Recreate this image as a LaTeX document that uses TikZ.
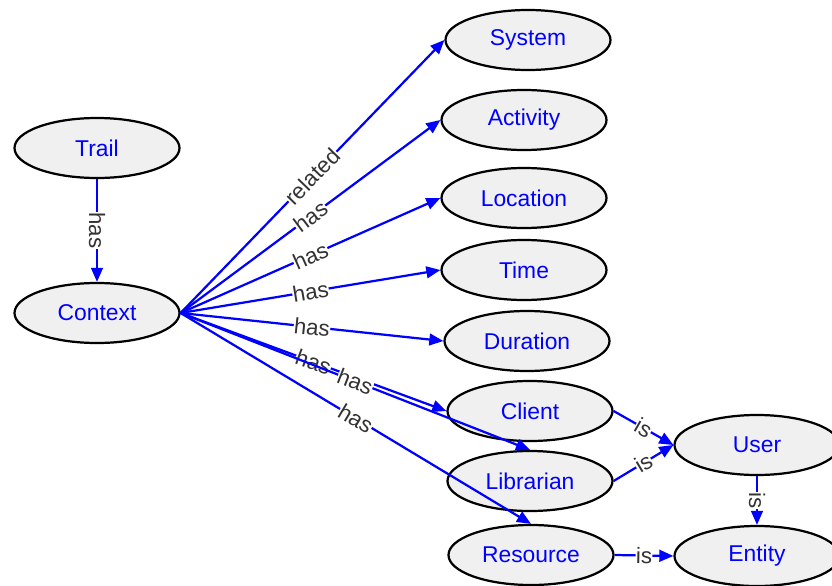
\documentclass[tikz,border=0pt]{standalone}
\usepackage{fontspec}
\setmainfont{Liberation Sans}
\usetikzlibrary{shapes.geometric,arrows.meta}

\definecolor{nodefill}{RGB}{240,240,240}
\definecolor{linkblue}{RGB}{0,0,255}

\tikzset{
  concept/.style={ellipse, draw=black, line width=1.9pt, fill=nodefill,
    minimum width=4.95cm, minimum height=1.8cm, inner sep=0pt,
    text=linkblue, font=\fontsize{19.5}{22}\selectfont},
  link/.style={draw=linkblue, line width=1.9pt, -{Triangle[length=12pt,width=10pt]}},
  rel/.style={fill=white, inner sep=0.3pt, sloped, text=black!80,
    font=\fontsize{19}{21}\selectfont}
}

\begin{document}
\begin{tikzpicture}[x=0.03cm, y=-0.03cm]
\useasboundingbox (0,0) rectangle (832,586);
\clip (0,0) rectangle (832,586);

% left column
\node[concept] (trail) at (97,148) {Trail};
\node[concept] (context) at (97,313) {Context};

% middle column
\node[concept] (system) at (528,40) {System};
\node[concept] (activity) at (524,120) {Activity};
\node[concept] (location) at (524,198) {Location};
\node[concept] (time) at (524,270) {Time};
\node[concept] (duration) at (527,341) {Duration};
\node[concept] (client) at (530,411) {Client};
\node[concept] (librarian) at (530,481) {Librarian};
\node[concept] (resource) at (531,555) {Resource};

% right column
\node[concept] (user) at (757,445) {User};
\node[concept] (entity) at (757,556) {Entity};

\draw[link] (trail) -- node[rel] {has} (context);

% fan out of context
\draw[link] (context.east) -- node[rel] {related} (system.west);
\draw[link] (context.east) -- node[rel] {has} (activity.west);
\draw[link] (context.east) -- node[rel] {has} (location.west);
\draw[link] (context.east) -- node[rel] {has} (time.west);
\draw[link] (context.east) -- node[rel] {has} (duration.west);
\draw[link] (context.east) -- node[rel] {has} (client.west);
\draw[link] (context.east) -- node[rel] {has} (librarian.north);
\draw[link] (context.east) -- node[rel] {has} (resource.north);

% is links
\draw[link] (client.east) -- node[rel] {is} (user.west);
\draw[link] (librarian.east) -- node[rel] {is} (user.west);
\draw[link] (user) -- node[rel] {is} (entity);
\draw[link] (resource.east) -- node[rel] {is} (entity.west);

\end{tikzpicture}
\end{document}
